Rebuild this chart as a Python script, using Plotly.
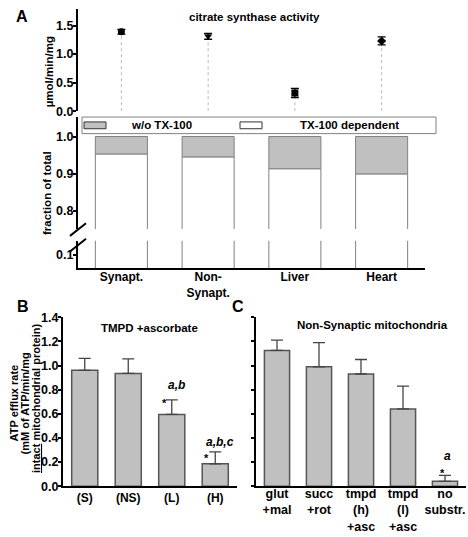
import plotly.graph_objects as go

W, H = 468, 537
def px(x): return x / W
def py(y): return 1 - y / H

FONT = "Liberation Sans"
GRAY = "#c0c0c0"

# ---------------- data ----------------
tissues = ["Synapt.", "Non-<br>Synapt.", "Liver", "Heart"]
cs_activity = [1.39, 1.31, 0.32, 1.23]
cs_err = [0.04, 0.05, 0.08, 0.07]
cs_symbols = ["circle", "triangle-down", "square", "diamond"]
tx_dependent = [0.953, 0.945, 0.913, 0.899]

b_labels = ["(S)", "(NS)", "(L)", "(H)"]
b_values = [0.96, 0.935, 0.595, 0.185]
b_err = [0.10, 0.12, 0.12, 0.10]

c_labels = ["glut<br>+mal", "succ<br>+rot", "tmpd<br>(h)<br>+asc", "tmpd<br>(l)<br>+asc", "no<br>substr."]
c_values = [1.125, 0.99, 0.93, 0.64, 0.04]
c_err = [0.085, 0.20, 0.12, 0.19, 0.05]

fig = go.Figure()

# ---------------- panel A top: citrate synthase ----------------
for i, v in enumerate(cs_activity):
    fig.add_trace(go.Scatter(x=[i, i], y=[0, v], mode="lines", xaxis="x", yaxis="y",
                             line=dict(color="#b8b8b8", width=1, dash="dot"), showlegend=False,
                             hoverinfo="skip"))
for i, v in enumerate(cs_activity):
    fig.add_trace(go.Scatter(x=[i], y=[v], mode="markers", xaxis="x", yaxis="y",
                             marker=dict(symbol=cs_symbols[i], size=7, color="black"),
                             error_y=dict(type="data", array=[cs_err[i]], color="black",
                                          thickness=1.3, width=4),
                             showlegend=False, cliponaxis=False))

# ---------------- panel A bottom: fractions (broken axis) ----------------
xs = list(range(len(tissues)))
gray_part = [1 - f for f in tx_dependent]
for xa, ya in (("x2", "y2"), ("x3", "y3")):
    fig.add_trace(go.Bar(x=xs, y=tx_dependent, xaxis=xa, yaxis=ya, width=0.6,
                         marker=dict(color="white", line=dict(color="#808080", width=1)),
                         showlegend=False))
    fig.add_trace(go.Bar(x=xs, y=gray_part, base=tx_dependent, xaxis=xa, yaxis=ya, width=0.6,
                         marker=dict(color=GRAY, line=dict(color="#808080", width=1)),
                         showlegend=False))

# ---------------- panel B ----------------
fig.add_trace(go.Bar(x=list(range(len(b_labels))), y=b_values, xaxis="x4", yaxis="y4", width=0.6,
                     marker=dict(color=GRAY, line=dict(color="#555555", width=1.5)),
                     error_y=dict(type="data", symmetric=False, array=b_err,
                                  arrayminus=[0] * len(b_err), color="#444444",
                                  thickness=1.3, width=6),
                     showlegend=False))

# ---------------- panel C ----------------
fig.add_trace(go.Bar(x=list(range(len(c_labels))), y=c_values, xaxis="x5", yaxis="y5", width=0.6,
                     marker=dict(color=GRAY, line=dict(color="#555555", width=1.5)),
                     error_y=dict(type="data", symmetric=False, array=c_err,
                                  arrayminus=[0] * len(c_err), color="#444444",
                                  thickness=1.3, width=6),
                     showlegend=False))

def tfont(size):
    return dict(family=FONT, size=size, color="black", weight="bold")

yax_common = dict(showline=True, linecolor="black", linewidth=2, ticks="outside", ticklen=3,
                  tickwidth=2, tickcolor="black", showgrid=False, zeroline=False,
                  tickformat=".1f", fixedrange=True, ticklabelstandoff=-3)
xhidden = dict(showline=False, showticklabels=False, ticks="", showgrid=False, zeroline=False)
xshown = dict(showline=True, linecolor="black", linewidth=2, ticks="", showgrid=False,
              zeroline=False)

fig.update_layout(
    width=W, height=H, margin=dict(l=0, r=0, t=0, b=0),
    paper_bgcolor="white", plot_bgcolor="white", barmode="overlay",
    showlegend=False,
    xaxis=dict(domain=[px(78), px(425)], range=[-0.5, 3.5], anchor="y", **xhidden),
    yaxis=dict(domain=[py(107), py(2)], range=[0, 1.79], tickvals=[0, 0.5, 1.0, 1.5],
               anchor="x", tickfont=tfont(12.5), **yax_common),
    xaxis2=dict(domain=[px(78), px(425)], range=[-0.5, 3.5], anchor="y2", **xhidden),
    yaxis2=dict(domain=[py(228), py(113)], range=[0.75, 1.0526], tickvals=[0.8, 0.9, 1.0],
                anchor="x2", tickfont=tfont(12.5), **yax_common),
    xaxis3=dict(domain=[px(78), px(425)], range=[-0.5, 3.5], anchor="y3",
                tickvals=xs, ticktext=tissues, tickfont=tfont(12), ticklabelstandoff=-3,
                **xshown),
    yaxis3=dict(domain=[py(268), py(240)], range=[0.0645, 0.1382], tickvals=[0.1],
                anchor="x3", tickfont=tfont(12.5), **yax_common),
    xaxis4=dict(domain=[px(63), px(237)], range=[-0.5, 3.5], anchor="y4",
                tickvals=list(range(len(b_labels))), ticktext=b_labels, tickfont=tfont(12),
                ticklabelstandoff=-1, **xshown),
    yaxis4=dict(domain=[py(492), py(318.6)], range=[0, 1.4], dtick=0.2, anchor="x4",
                tickfont=tfont(12.5), **yax_common),
    xaxis5=dict(domain=[px(256), px(466)], range=[-0.5, 4.5], anchor="y5",
                tickvals=list(range(len(c_labels))), ticktext=c_labels, tickfont=tfont(12.5),
                ticklabelstandoff=-5, **xshown),
    yaxis5=dict(domain=[py(492), py(318.6)], range=[0, 1.4], dtick=0.2, anchor="x5",
                showticklabels=False, **yax_common),
)

# ---------------- legend (drawn) ----------------
shapes = [
    dict(type="rect", xref="paper", yref="paper", x0=px(82), x1=px(436), y0=py(130), y1=py(113),
         line=dict(color="#808080", width=1), fillcolor="white", layer="above"),
    dict(type="rect", xref="paper", yref="paper", x0=px(84), x1=px(106), y0=py(125), y1=py(118),
         line=dict(color="#333333", width=1), fillcolor=GRAY, layer="above"),
    dict(type="rect", xref="paper", yref="paper", x0=px(240), x1=px(262), y0=py(125), y1=py(118),
         line=dict(color="#333333", width=1), fillcolor="white", layer="above"),
    # axis break marks
    dict(type="line", xref="paper", yref="paper", x0=px(70), y0=py(235), x1=px(86), y1=py(222),
         line=dict(color="black", width=2)),
    dict(type="line", xref="paper", yref="paper", x0=px(70), y0=py(251), x1=px(86), y1=py(238),
         line=dict(color="black", width=2)),
]

def ann(text, x, y, size=11.5, angle=0, italic=False, xanchor="center", xref="paper", yref="paper"):
    return dict(text=text, x=x, y=y, xref=xref, yref=yref, showarrow=False, textangle=angle,
                xanchor=xanchor, yanchor="middle", borderpad=0,
                font=dict(family=FONT, size=size, color="black", weight="bold",
                          style="italic" if italic else "normal"))

annotations = [
    ann("A", px(22), py(10), size=16),
    ann("B", px(23), py(308), size=16),
    ann("C", px(238), py(308), size=16),
    ann("citrate synthase activity", px(255), py(10), size=11.5),
    ann("w/o TX-100", px(161), py(121), size=11.5),
    ann("TX-100 dependent", px(349), py(121), size=11.5),
    ann("µmol/min/mg", px(49), py(67), size=11.5, angle=-90),
    ann("fraction of total", px(47), py(191), size=11.5, angle=-90),
    ann("TMPD +ascorbate", px(149), py(330), size=11.5),
    ann("Non-Synaptic mitochondria", px(372), py(327), size=11.5),
    ann("ATP efflux rate", px(14), py(407), size=11, angle=-90),
    ann("(mM of ATP/min/mg", px(25), py(407), size=11, angle=-90),
    ann("<u>intact</u> mitochondrial protein)", px(35.5), py(402), size=11, angle=-90),
    ann("a,b", 2.12, 0.84, size=12, italic=True, xref="x4", yref="y4"),
    ann("*", 1.84, 0.69, size=11, xref="x4", yref="y4"),
    ann("a,b,c", 3.11, 0.37, size=12, italic=True, xref="x4", yref="y4"),
    ann("*", 2.79, 0.23, size=11, xref="x4", yref="y4"),
    ann("a", 4.06, 0.25, size=12, italic=True, xref="x5", yref="y5"),
    ann("*", 3.94, 0.11, size=11, xref="x5", yref="y5"),
]

fig.update_layout(shapes=shapes, annotations=annotations)
fig.write_html("out.html", config={"displayModeBar": False},
               post_script="document.body.style.margin='0';document.body.style.padding='0';")
